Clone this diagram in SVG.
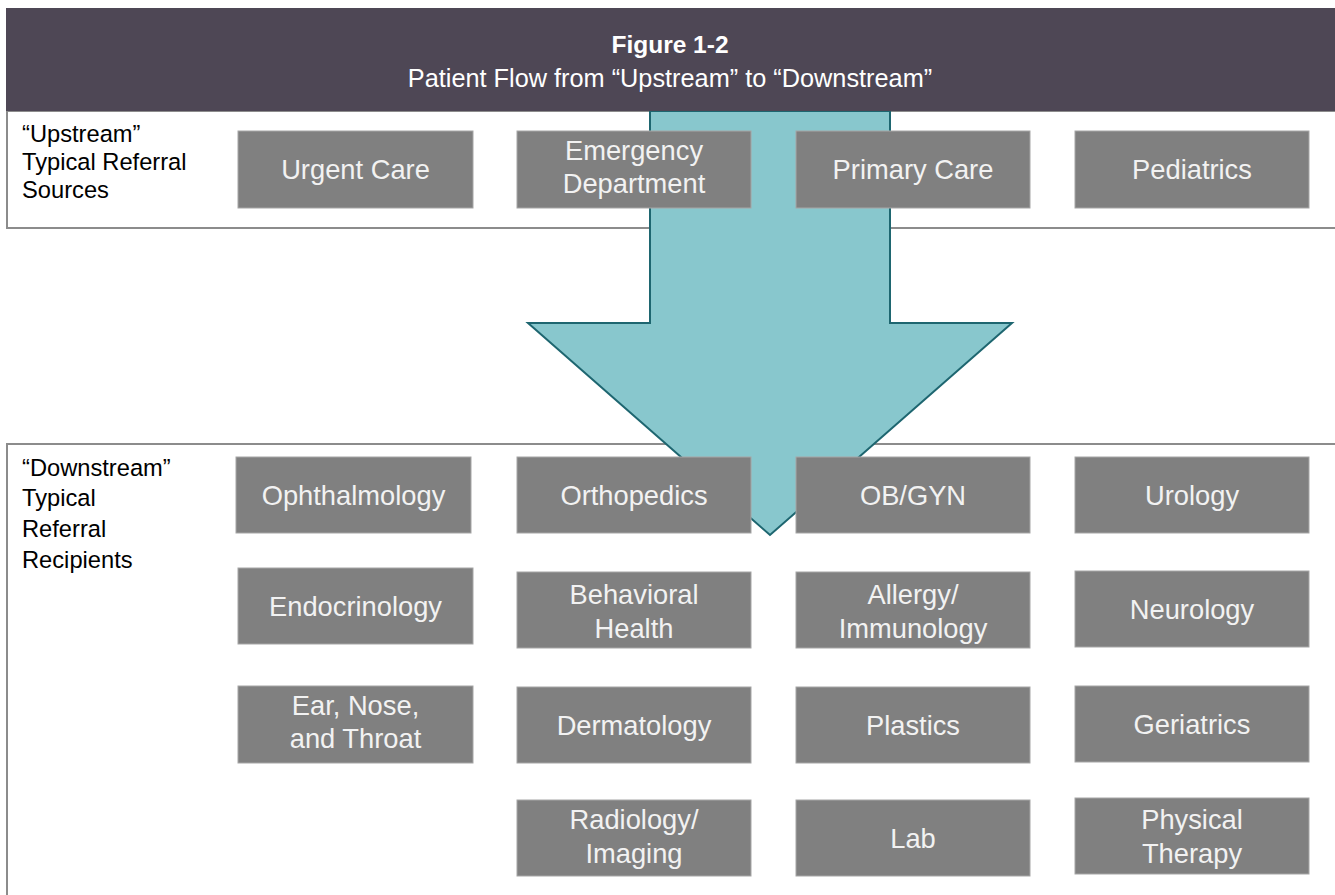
<svg xmlns="http://www.w3.org/2000/svg" width="1335" height="895" viewBox="0 0 1335 895">
<style>
.bg{fill:#ffffff}
.panel{fill:#ffffff;stroke:#8c8c8c;stroke-width:2}
.box{fill:#808080;stroke:#a6a6a6;stroke-width:1}
.bt{font-family:"Liberation Sans",Arial,sans-serif;font-size:27.3px;fill:#f2f2f2;text-anchor:middle}
.lbl{font-family:"Liberation Sans",Arial,sans-serif;font-size:23.7px;fill:#000000}
.ttl{font-family:"Liberation Sans",Arial,sans-serif;fill:#ffffff;text-anchor:middle}
</style>
<rect class="bg" x="0" y="0" width="1335" height="895"/>
<g id="upstream-panel">
<rect class="panel" x="7" y="111" width="1330" height="117"/>
<text class="lbl" x="22" y="142">“Upstream”</text>
<text class="lbl" x="22" y="170">Typical Referral</text>
<text class="lbl" x="22" y="198">Sources</text>
</g>
<g id="downstream-panel">
<rect class="panel" x="7" y="444" width="1330" height="470"/>
<text class="lbl" x="22" y="476">“Downstream”</text>
<text class="lbl" x="22" y="506">Typical</text>
<text class="lbl" x="22" y="537">Referral</text>
<text class="lbl" x="22" y="568">Recipients</text>
</g>
<g id="connectors">
<polygon id="flow-arrow" points="650,111 890,111 890,323 1012,323 770,535 528,323 650,323" fill="#88c7cd" stroke="#1e6670" stroke-width="2" stroke-linejoin="miter"/>
</g>
<g id="header">
<rect x="6" y="8" width="1331" height="103" fill="#4e4755"/>
<text class="ttl" x="670" y="53" font-size="24.5px" font-weight="bold">Figure 1-2</text>
<text class="ttl" x="670" y="87" font-size="25.3px">Patient Flow from “Upstream” to “Downstream”</text>
</g>
<g id="urgent-care"><rect class="box" x="238" y="131" width="235" height="77"/><text class="bt" x="355.5" y="179">Urgent Care</text></g>
<g id="emergency-department"><rect class="box" x="517" y="131" width="234" height="77"/><text class="bt" x="634" y="160">Emergency</text><text class="bt" x="634" y="193">Department</text></g>
<g id="primary-care"><rect class="box" x="796" y="131" width="234" height="77"/><text class="bt" x="913" y="179">Primary Care</text></g>
<g id="pediatrics"><rect class="box" x="1075" y="131" width="234" height="77"/><text class="bt" x="1192" y="179">Pediatrics</text></g>

<g id="ophthalmology"><rect class="box" x="236" y="457" width="235" height="76"/><text class="bt" x="353.5" y="505">Ophthalmology</text></g>
<g id="orthopedics"><rect class="box" x="517" y="457" width="234" height="76"/><text class="bt" x="634" y="505">Orthopedics</text></g>
<g id="ob-gyn"><rect class="box" x="796" y="457" width="234" height="76"/><text class="bt" x="913" y="505">OB/GYN</text></g>
<g id="urology"><rect class="box" x="1075" y="457" width="234" height="76"/><text class="bt" x="1192" y="505">Urology</text></g>

<g id="endocrinology"><rect class="box" x="238" y="568" width="235" height="76"/><text class="bt" x="355.5" y="616">Endocrinology</text></g>
<g id="behavioral-health"><rect class="box" x="517" y="572" width="234" height="76"/><text class="bt" x="634" y="604">Behavioral</text><text class="bt" x="634" y="638">Health</text></g>
<g id="allergy-immunology"><rect class="box" x="796" y="572" width="234" height="76"/><text class="bt" x="913" y="604">Allergy/</text><text class="bt" x="913" y="638">Immunology</text></g>
<g id="neurology"><rect class="box" x="1075" y="571" width="234" height="76"/><text class="bt" x="1192" y="619">Neurology</text></g>

<g id="ent"><rect class="box" x="238" y="686" width="235" height="77"/><text class="bt" x="355.5" y="715">Ear, Nose,</text><text class="bt" x="355.5" y="748">and Throat</text></g>
<g id="dermatology"><rect class="box" x="517" y="687" width="234" height="76"/><text class="bt" x="634" y="735">Dermatology</text></g>
<g id="plastics"><rect class="box" x="796" y="687" width="234" height="76"/><text class="bt" x="913" y="735">Plastics</text></g>
<g id="geriatrics"><rect class="box" x="1075" y="686" width="234" height="76"/><text class="bt" x="1192" y="734">Geriatrics</text></g>

<g id="radiology-imaging"><rect class="box" x="517" y="800" width="234" height="76"/><text class="bt" x="634" y="829">Radiology/</text><text class="bt" x="634" y="863">Imaging</text></g>
<g id="lab"><rect class="box" x="796" y="800" width="234" height="76"/><text class="bt" x="913" y="848">Lab</text></g>
<g id="physical-therapy"><rect class="box" x="1075" y="798" width="234" height="76"/><text class="bt" x="1192" y="829">Physical</text><text class="bt" x="1192" y="863">Therapy</text></g>
</svg>
